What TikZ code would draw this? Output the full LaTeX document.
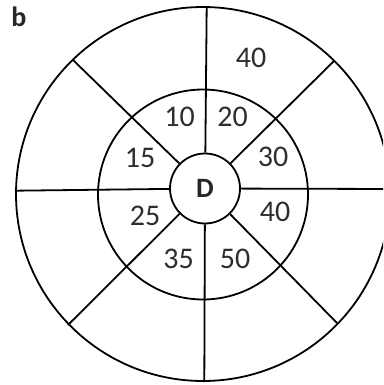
\documentclass[tikz,border=0pt]{standalone}
\usepackage{fontspec}
\setmainfont{Carlito}
\usepackage{tikz}

\begin{document}
\begin{tikzpicture}[x=1pt,y=-1pt,line width=1.8pt,
  lbl/.style={font=\fontsize{30}{32}\selectfont,text=black!82}]

\clip (0,0) rectangle (383,385);

% rings
\draw (203,194) circle[radius=187pt];
\draw (203,194.5) circle[radius=105pt];
\node[circle,draw,minimum size=70pt,inner sep=0pt,
      font=\bfseries\fontsize{28}{30}\selectfont,text=black!85] (D) at (205,188.5) {D};

% ends of the spokes on the outer ring
\coordinate (top) at (206.7,6);
\coordinate (bot) at (204.3,382);
\coordinate (lft) at (15,190.7);
\coordinate (rgt) at (395,189);
\coordinate (nw) at (72.3,59.3);
\coordinate (ne) at (334,61);
\coordinate (sw) at (68,325);
\coordinate (se) at (337,323);

\draw (D) -- (top);
\draw (D) -- (bot);
\draw (D) -- (lft);
\draw (D) -- (rgt);
\draw (D) -- (nw);
\draw (D) -- (ne);
\draw (D) -- (sw);
\draw (D) -- (se);

% values
\node[lbl] (outerNE) at (251,58) {40};
\node[lbl] (v10) at (179.5,117) {10};
\node[lbl] (v20) at (232.5,117) {20};
\node[lbl] (v15) at (140,157.5) {15};
\node[lbl] (v30) at (273,156.5) {30};
\node[lbl] (v25) at (145,216) {25};
\node[lbl] (v40) at (275,212) {40};
\node[lbl] (v35) at (178.5,259) {35};
\node[lbl] (v50) at (235,259) {50};

\node[font=\bfseries\fontsize{28}{30}\selectfont,text=black!85] (tag) at (19,17) {b};

\end{tikzpicture}
\end{document}
